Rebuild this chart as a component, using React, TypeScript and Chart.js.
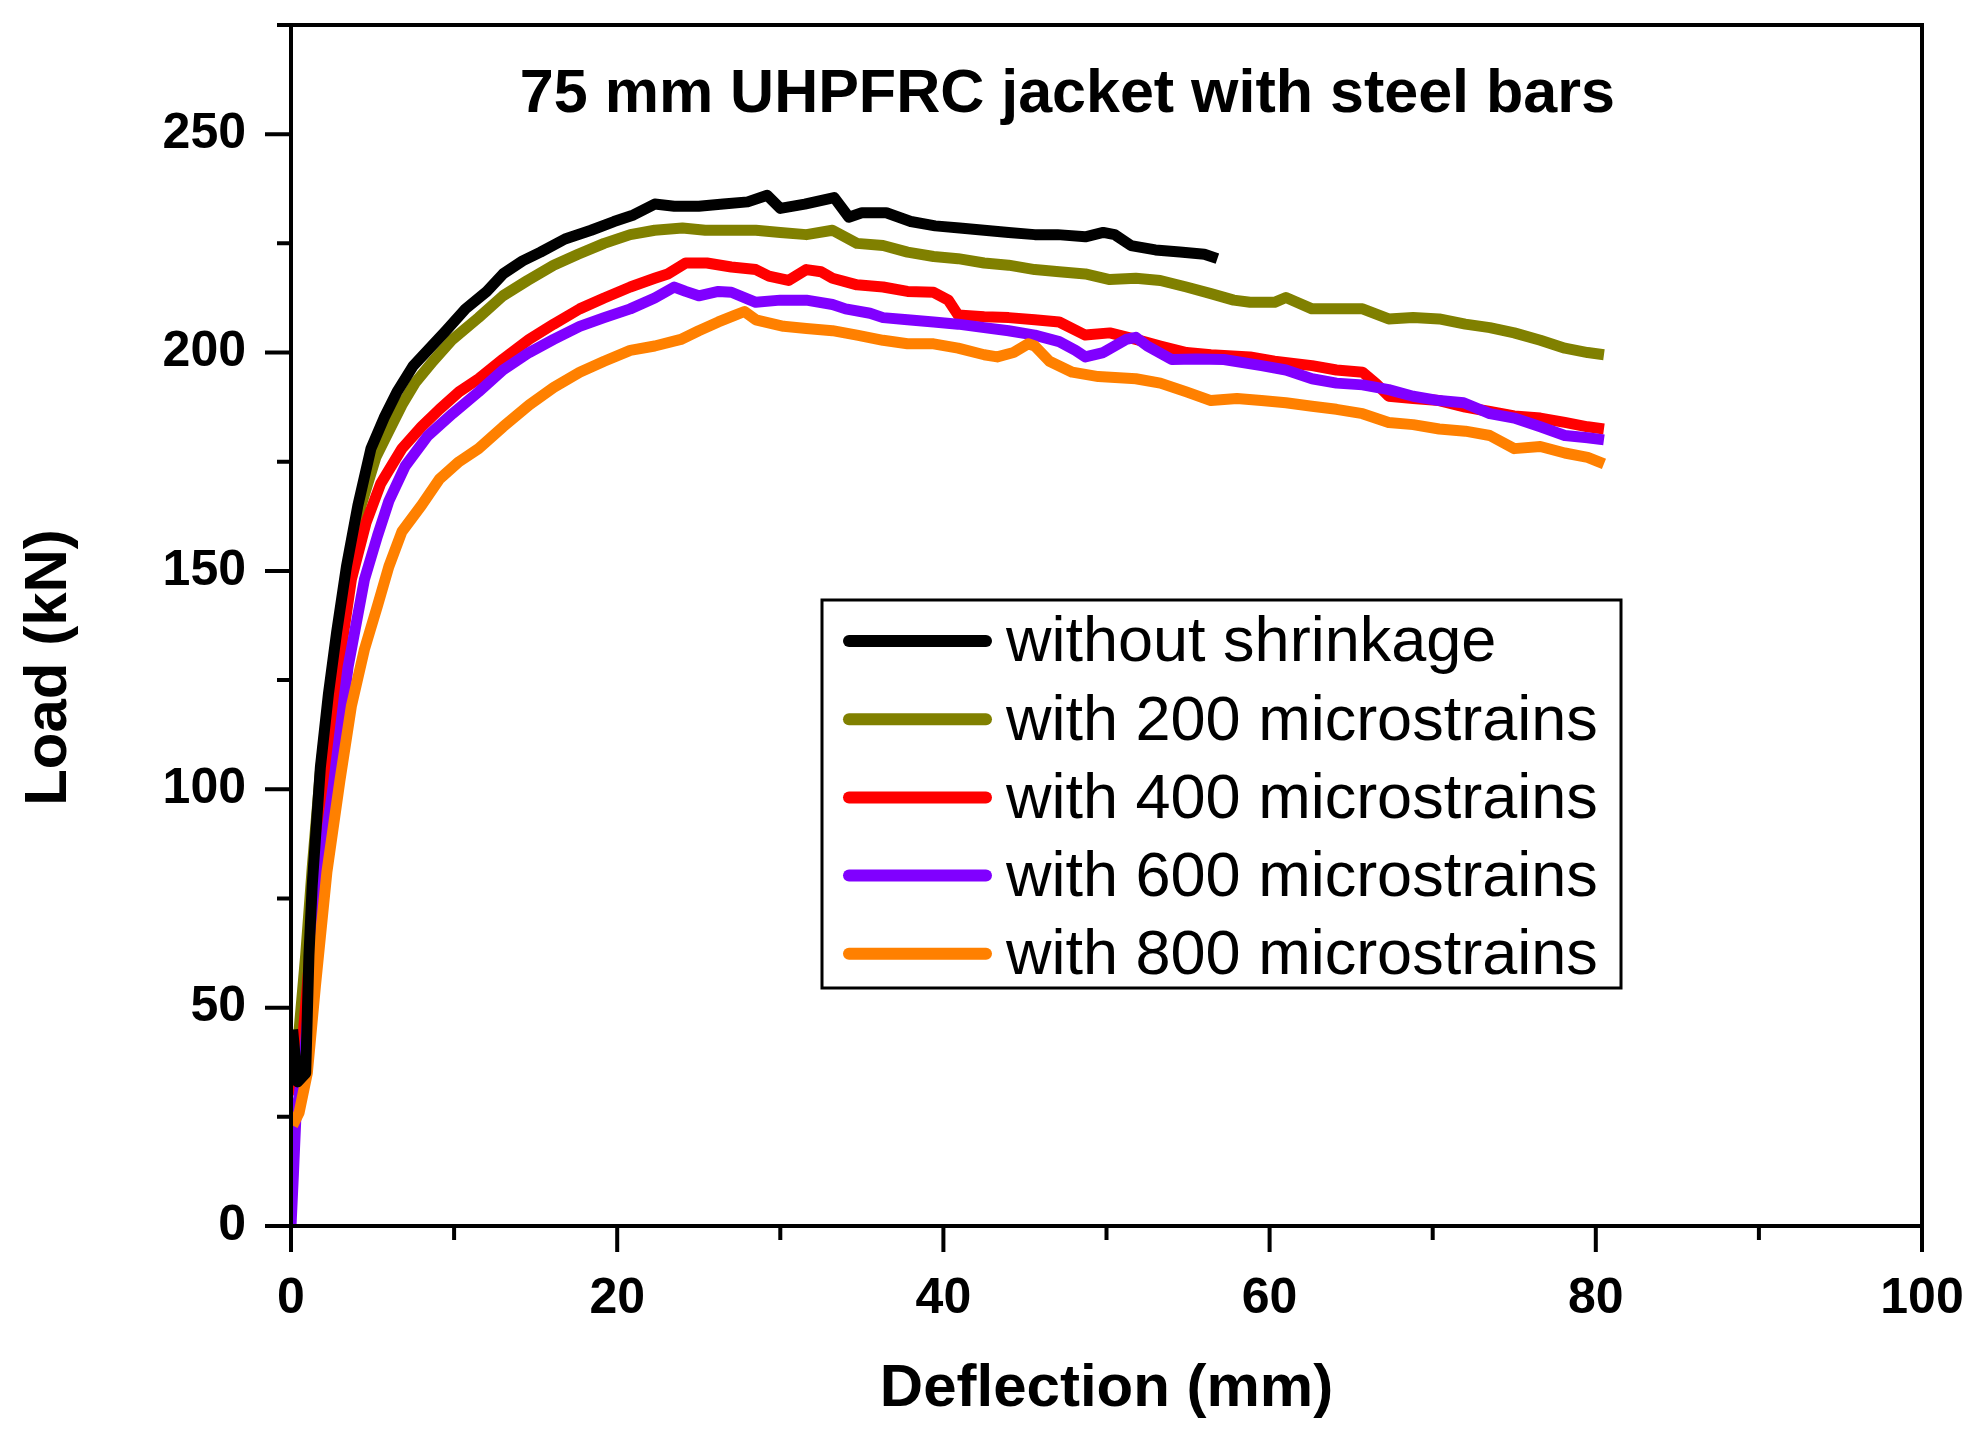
import { useEffect, useRef } from 'react';
import { Chart, registerables } from 'chart.js';

Chart.register(...registerables);

// load-deflection readings, [deflection mm, load kN]
const WITHOUT_SHRINKAGE: [number, number][] = [
  [0.1, 45], [0.4, 33], [0.9, 35], [1.1, 62], [1.3, 78], [1.8, 105], [2.3, 122], [2.8, 136],
  [3.4, 151], [4.1, 165], [4.9, 178], [5.7, 185], [6.5, 191], [7.5, 197], [8.5, 201], [9.5, 205],
  [10.7, 210], [12, 214], [13, 218], [14.2, 221], [15.3, 223], [16.8, 226], [18.4, 228], [19.8, 230],
  [21, 231.5], [22.3, 234], [23.5, 233.5], [25, 233.5], [26.5, 234], [28, 234.5], [29.2, 236], [30, 233],
  [31.5, 234], [33.3, 235.5], [34.2, 231], [35, 232], [36.5, 232], [38, 230], [39.5, 229], [41, 228.5],
  [42.5, 228], [44, 227.5], [45.6, 227], [47, 227], [48.7, 226.5], [49.8, 227.5], [50.5, 227], [51.5, 224.5],
  [53, 223.5], [54.5, 223], [56, 222.5], [56.8, 221.5],
];

const WITH_200: [number, number][] = [
  [0.1, 40], [0.5, 45], [0.9, 62], [1.3, 82], [1.8, 104], [2.3, 120], [2.8, 134], [3.5, 150],
  [4.3, 165], [5.2, 176], [6, 182], [6.8, 188], [7.6, 193], [8.7, 198], [9.9, 203], [11.5, 208],
  [13, 213], [14.5, 216.5], [16.1, 220], [17.6, 222.5], [19.2, 225], [20.8, 227], [22.3, 228], [24, 228.5],
  [25.4, 228], [27, 228], [28.5, 228], [30, 227.5], [31.6, 227], [33.2, 228], [34.7, 225], [36.3, 224.5],
  [37.8, 223], [39.4, 222], [40.9, 221.5], [42.5, 220.5], [44, 220], [45.6, 219], [47.1, 218.5], [48.7, 218],
  [50.2, 216.7], [51.8, 217], [53.3, 216.5], [54.9, 215], [56.4, 213.5], [57.8, 212], [58.8, 211.5], [60.3, 211.5],
  [61, 212.6], [62.6, 210], [64.1, 210], [65.7, 210], [67.3, 207.7], [68.8, 208], [70.4, 207.7], [72, 206.5],
  [73.5, 205.7], [75, 204.5], [76.6, 202.8], [78.1, 201], [79.5, 200], [80.5, 199.5],
];

const WITH_400: [number, number][] = [
  [0.1, 30], [0.5, 33], [1, 55], [1.5, 78], [2.2, 105], [3, 130], [3.7, 148], [4.6, 161],
  [5.5, 170], [6.8, 178], [8, 183], [9.1, 187], [10.3, 191], [11.5, 194], [13, 198.5], [14.6, 203],
  [16.1, 206.5], [17.7, 210], [19.2, 212.5], [20.8, 215], [22.3, 217], [23.1, 218], [24.2, 220.5], [25.5, 220.5],
  [27, 219.6], [28.5, 219], [29.3, 217.5], [30.5, 216.5], [31.6, 219], [32.5, 218.5], [33.2, 217], [34.7, 215.5],
  [36.3, 215], [37.8, 214], [39.4, 213.8], [40.3, 212], [40.9, 208.6], [42.5, 208.2], [44, 208], [45.6, 207.5],
  [47.1, 207], [48.7, 204], [50.2, 204.5], [51.8, 203], [53.3, 201.5], [54.9, 200], [56.4, 199.5], [58.8, 199],
  [60.3, 198], [62.6, 197], [64.1, 196], [65.7, 195.5], [66.5, 193], [67.3, 190], [68.8, 189.5], [70.4, 189],
  [72, 187.5], [73.5, 186.5], [75, 185.5], [76.6, 185], [78.1, 184], [79.5, 183], [80.5, 182.5],
];

const WITH_600: [number, number][] = [
  [0, 0], [0.15, 12], [0.3, 25], [0.5, 30], [0.8, 38], [1.2, 55], [1.8, 80], [2.6, 101],
  [3.5, 128], [4.5, 148], [5.3, 158], [6, 166], [7, 174], [8.4, 181], [9.9, 186], [11.5, 191],
  [13, 196], [14.6, 200], [16.1, 203], [17.7, 206], [19.2, 208], [20.8, 210], [22.3, 212.5], [23.5, 215],
  [24.2, 214], [25, 213], [26.2, 214], [27, 213.8], [28.5, 211.5], [30, 212], [31.6, 212], [33.2, 211],
  [34, 210], [35.5, 209], [36.3, 208], [37.8, 207.5], [39.4, 207], [40.9, 206.5], [42.5, 205.7], [44, 205],
  [45.6, 204], [47.1, 202.5], [48.1, 200.5], [48.7, 199], [49.8, 200], [51.2, 203], [51.8, 203.5], [52.5, 201.5],
  [54, 198.4], [55.5, 198.5], [57.2, 198.4], [59.5, 197], [61, 196], [62.6, 194], [64.1, 193], [65.7, 192.6],
  [67.3, 191.5], [68.8, 190], [70.4, 189], [71.9, 188.5], [73.5, 186], [75, 185], [76.6, 183], [78.1, 181],
  [79.5, 180.5], [80.5, 180],
];

const WITH_800: [number, number][] = [
  [0.1, 23], [0.5, 26], [1, 35], [1.5, 55], [2.2, 81], [3, 102], [3.7, 119], [4.5, 132],
  [5.3, 142], [6, 151], [6.8, 159], [8, 165], [9.1, 171], [10.3, 175], [11.5, 178], [13, 183],
  [14.6, 188], [16.1, 192], [17.7, 195.5], [19.2, 198], [20.8, 200.5], [22.3, 201.5], [23.9, 203], [25, 205],
  [26.2, 207], [27.2, 208.5], [27.8, 209.4], [28.5, 207.5], [30.2, 206], [31.6, 205.5], [33.2, 205], [34.7, 204],
  [36.3, 202.8], [37.8, 202], [39.4, 202], [40.9, 201], [42.5, 199.5], [43.3, 199], [44.3, 200], [45.2, 202],
  [45.6, 201.5], [46.5, 198], [47.9, 195.5], [49.5, 194.5], [51.8, 194], [53.3, 193], [54.9, 191], [56.4, 189],
  [58, 189.5], [59.5, 189], [61, 188.5], [62.6, 187.7], [64.1, 187], [65.7, 186], [67.3, 184], [68.8, 183.5],
  [70.4, 182.5], [72, 182], [73.5, 181], [75, 178], [76.6, 178.5], [78.1, 177], [79.5, 176], [80.5, 174.5],
];

const SERIES_LABELS = [
  'without shrinkage',
  'with 200 microstrains',
  'with 400 microstrains',
  'with 600 microstrains',
  'with 800 microstrains',
];
const SERIES_COLORS = ['#000000', '#808000', '#ff0000', '#8000ff', '#ff8000'];
// black on top, olive at the bottom, like the original
const SERIES_ORDER = [0, 4, 3, 2, 1];

const X_TICKS = [0, 20, 40, 60, 80, 100];
const X_MINOR = [10, 30, 50, 70, 90];
const Y_TICKS = [0, 50, 100, 150, 200, 250];
const Y_MINOR = [25, 75, 125, 175, 225, 275];

const TITLE = '75 mm UHPFRC jacket with steel bars';
const FONT = '"Liberation Sans", Arial, sans-serif';

const frameAndLegend = {
  id: 'frameAndLegend',
  afterDatasetsDraw(chart: Chart) {
    const { ctx, chartArea, scales } = chart;
    const { left, right, top, bottom } = chartArea;
    const x = scales.x;
    const y = scales.y;
    ctx.save();

    // frame
    ctx.strokeStyle = '#000';
    ctx.lineWidth = 4;
    ctx.lineCap = 'square';
    ctx.strokeRect(left, top, right - left, bottom - top);

    // outward ticks
    ctx.lineCap = 'butt';
    ctx.beginPath();
    X_TICKS.forEach((v) => {
      const px = x.getPixelForValue(v);
      ctx.moveTo(px, bottom);
      ctx.lineTo(px, bottom + 26);
    });
    X_MINOR.forEach((v) => {
      const px = x.getPixelForValue(v);
      ctx.moveTo(px, bottom);
      ctx.lineTo(px, bottom + 14);
    });
    Y_TICKS.forEach((v) => {
      const py = y.getPixelForValue(v);
      ctx.moveTo(left, py);
      ctx.lineTo(left - 26, py);
    });
    Y_MINOR.forEach((v) => {
      const py = y.getPixelForValue(v);
      ctx.moveTo(left, py);
      ctx.lineTo(left - 14, py);
    });
    ctx.stroke();

    // title inside the plot
    ctx.fillStyle = '#000';
    ctx.font = `bold 61px ${FONT}`;
    ctx.textAlign = 'center';
    ctx.textBaseline = 'middle';
    ctx.fillText(TITLE, left + (right - left) * 0.476, top + 70);

    // y axis title, a little below the axis centre as in the original
    ctx.font = `bold 60px ${FONT}`;
    ctx.save();
    ctx.translate(49, (top + bottom) / 2 + 42);
    ctx.rotate(-Math.PI / 2);
    ctx.fillText('Load (kN)', 0, 0);
    ctx.restore();

    // legend box
    const boxL = 822;
    const boxT = 600;
    const boxW = 799;
    const boxH = 388;
    ctx.fillStyle = '#fff';
    ctx.fillRect(boxL, boxT, boxW, boxH);
    ctx.strokeStyle = '#000';
    ctx.lineWidth = 3;
    ctx.strokeRect(boxL, boxT, boxW, boxH);

    ctx.font = `63px ${FONT}`;
    ctx.textAlign = 'left';
    chart.data.datasets.forEach((ds, i) => {
      const rowY = boxT + 41 + i * 78.2;
      ctx.strokeStyle = ds.borderColor as string;
      ctx.lineWidth = 12;
      ctx.lineCap = 'round';
      ctx.beginPath();
      ctx.moveTo(boxL + 27, rowY);
      ctx.lineTo(boxL + 164, rowY);
      ctx.stroke();
      ctx.fillStyle = '#000';
      ctx.fillText(ds.label as string, boxL + 184, rowY + 3);
    });

    ctx.restore();
  },
};

export default function App() {
  const canvasRef = useRef<HTMLCanvasElement>(null);

  useEffect(() => {
    if (!canvasRef.current) return;
    document.body.style.margin = '0';

    const allSeries = [WITHOUT_SHRINKAGE, WITH_200, WITH_400, WITH_600, WITH_800];

    const chart = new Chart(canvasRef.current, {
      type: 'line',
      data: {
        datasets: allSeries.map((pts, i) => ({
          label: SERIES_LABELS[i],
          data: pts.map(([dx, load]) => ({ x: dx, y: load })),
          borderColor: SERIES_COLORS[i],
          backgroundColor: SERIES_COLORS[i],
          borderWidth: 11,
          pointRadius: 0,
          tension: 0,
          fill: false,
          order: SERIES_ORDER[i],
          borderJoinStyle: 'round' as const,
        })),
      },
      options: {
        responsive: false,
        devicePixelRatio: 1,
        animation: false,
        layout: { padding: { top: 25, right: 58, left: 0, bottom: 0 } },
        scales: {
          x: {
            type: 'linear',
            min: 0,
            max: 100,
            afterBuildTicks: (scale) => {
              scale.ticks = X_TICKS.map((value) => ({ value }));
            },
            afterFit: (scale) => {
              scale.height = 218;
              scale.paddingLeft = 0;
              scale.paddingRight = 0;
            },
            grid: { display: false, drawTicks: false },
            border: { display: false },
            ticks: {
              color: '#000',
              padding: 43,
              maxRotation: 0,
              font: { family: FONT, size: 50, weight: 'bold' },
            },
            title: {
              display: true,
              text: 'Deflection (mm)',
              color: '#000',
              padding: { top: 0, bottom: 19 },
              font: { family: FONT, size: 60, weight: 'bold' },
            },
          },
          y: {
            type: 'linear',
            min: 0,
            max: 275,
            afterBuildTicks: (scale) => {
              scale.ticks = Y_TICKS.map((value) => ({ value }));
            },
            afterFit: (scale) => {
              scale.width = 291;
              scale.paddingTop = 0;
              scale.paddingBottom = 0;
            },
            grid: { display: false, drawTicks: false },
            border: { display: false },
            ticks: {
              color: '#000',
              padding: 45,
              font: { family: FONT, size: 50, weight: 'bold' },
            },
          },
        },
        plugins: {
          legend: { display: false },
          tooltip: { enabled: false },
        },
      },
      plugins: [frameAndLegend],
    });

    return () => {
      chart.destroy();
    };
  }, []);

  return (
    <div style={{ width: 1980, height: 1444 }}>
      <canvas ref={canvasRef} width={1980} height={1444} style={{ display: 'block' }} />
    </div>
  );
}
